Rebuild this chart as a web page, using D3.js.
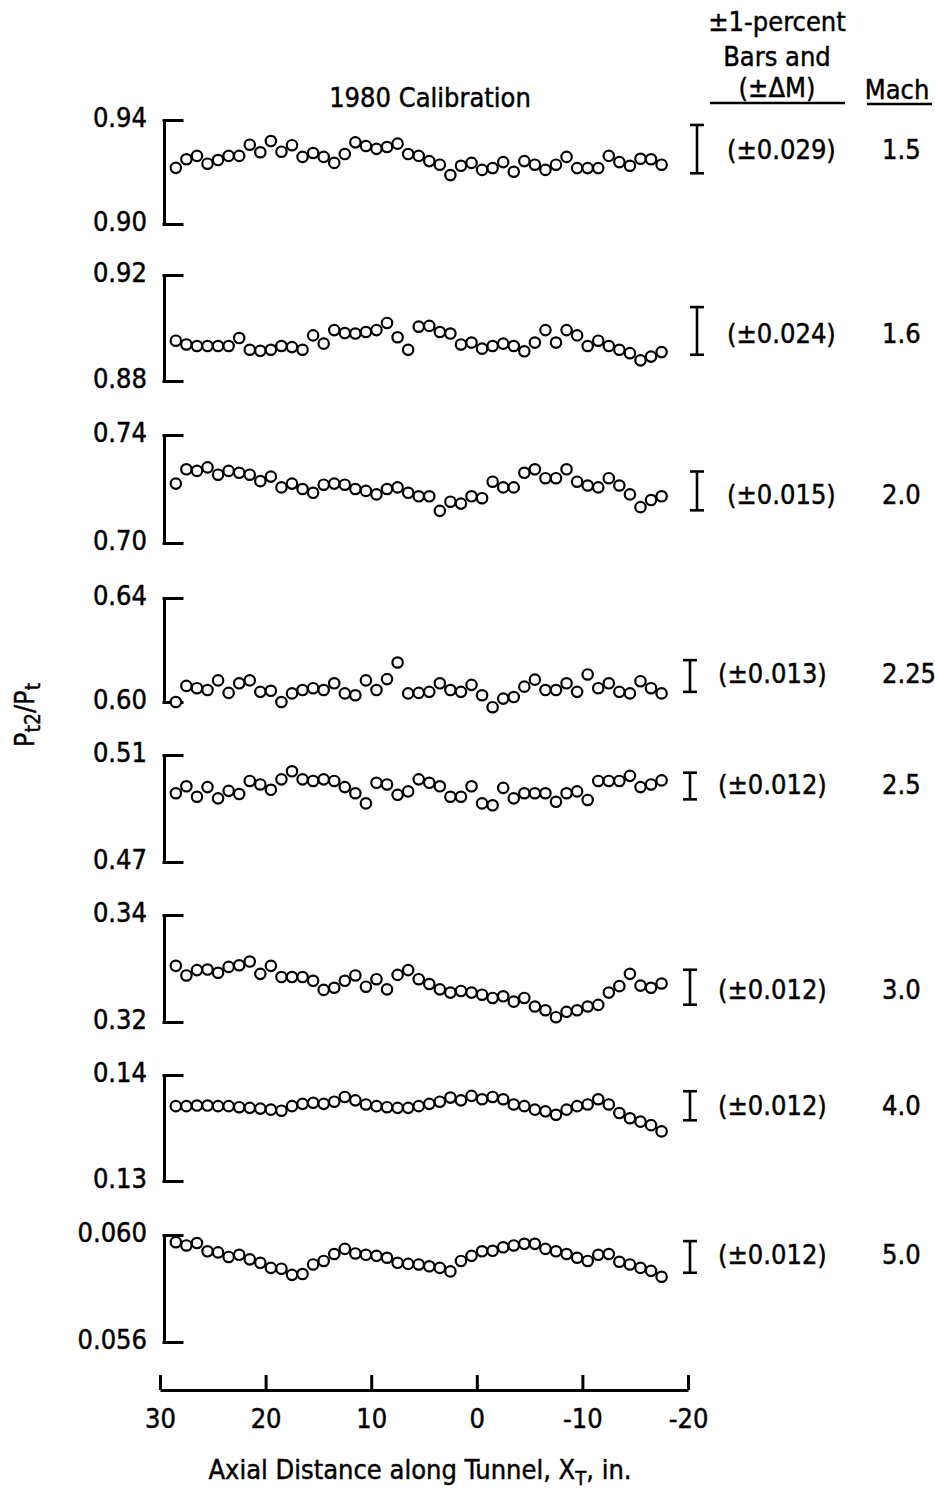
<!DOCTYPE html>
<html>
<head>
<meta charset="utf-8">
<script src="https://cdn.jsdelivr.net/npm/d3@7"></script>
<style>
body { margin: 0; background: #fff; }
text { font-family: "Liberation Sans Narrow", "DejaVu Sans Condensed", "Roboto Condensed", "DejaVu Sans", sans-serif; font-stretch: condensed; fill: #000; stroke: #000; stroke-width: 0.45px; }
</style>
</head>
<body>
<svg id="chart"></svg>
<script>
// Axial stations (in.) shared by every Mach number
var axialX = [28.5, 27.5, 26.5, 25.5, 24.5, 23.5, 22.5, 21.5, 20.5, 19.5, 18.5, 17.5, 16.5, 15.5, 14.5, 13.5,
    12.5, 11.5, 10.5, 9.5, 8.5, 7.5, 6.5, 5.5, 4.5, 3.5, 2.5, 1.5, 0.5, -0.5, -1.5, -2.5, -3.5, -4.5, -5.5,
    -6.5, -7.5, -8.5, -9.5, -10.5, -11.5, -12.5, -13.5, -14.5, -15.5, -16.5, -17.5];

var machLabels = ["1.5", "1.6", "2.0", "2.25", "2.5", "3.0", "4.0", "5.0"];
var deltaM = ["(\u00b10.029)", "(\u00b10.024)", "(\u00b10.015)", "(\u00b10.013)", "(\u00b10.012)", "(\u00b10.012)", "(\u00b10.012)", "(\u00b10.012)"];
var yHigh = [0.94, 0.92, 0.74, 0.64, 0.51, 0.34, 0.14, 0.060];
var yLow = [0.90, 0.88, 0.70, 0.60, 0.47, 0.32, 0.13, 0.056];
var yHighLabels = ["0.94", "0.92", "0.74", "0.64", "0.51", "0.34", "0.14", "0.060"];
var yLowLabels = ["0.90", "0.88", "0.70", "0.60", "0.47", "0.32", "0.13", "0.056"];
// centre value of each +-1 percent bar
var barCenter = [0.9288, 0.8989, 0.7193, 0.6100, 0.4984, 0.3265, 0.1371, 0.05918];
var xTicks = [30, 20, 10, 0, -10, -20];

// pt2/pt along the tunnel
var m15 = [0.9216, 0.9249, 0.9262, 0.9232, 0.9246, 0.9262, 0.9262, 0.9305, 0.9276, 0.9319,
    0.9278, 0.9303, 0.9258, 0.9273, 0.9258, 0.9235, 0.9269, 0.9314, 0.9300, 0.9289,
    0.9296, 0.9309, 0.9269, 0.9262, 0.9242, 0.9228, 0.9188, 0.9224, 0.9235, 0.9208,
    0.9215, 0.9238, 0.9201, 0.9242, 0.9228, 0.9208, 0.9228, 0.9258, 0.9215, 0.9215,
    0.9215, 0.9262, 0.9238, 0.9224, 0.9251, 0.9249, 0.9228];
var m16 = [0.8952, 0.8938, 0.8932, 0.8932, 0.8932, 0.8932, 0.8962, 0.8918, 0.8914, 0.8918,
    0.8932, 0.8928, 0.8918, 0.8972, 0.8941, 0.8992, 0.8981, 0.8979, 0.8985, 0.8992,
    0.9019, 0.8965, 0.8918, 0.9005, 0.9008, 0.8985, 0.8979, 0.8938, 0.8945, 0.8922,
    0.8932, 0.8941, 0.8932, 0.8912, 0.8945, 0.8992, 0.8945, 0.8992, 0.8972, 0.8932,
    0.8952, 0.8932, 0.8918, 0.8905, 0.8878, 0.8892, 0.8909];
var m20 = [0.7220, 0.7273, 0.7267, 0.7280, 0.7253, 0.7267, 0.7260, 0.7253, 0.7229, 0.7246,
    0.7206, 0.7220, 0.7200, 0.7186, 0.7216, 0.7220, 0.7216, 0.7200, 0.7193, 0.7180,
    0.7200, 0.7206, 0.7186, 0.7173, 0.7173, 0.7119, 0.7153, 0.7146, 0.7173, 0.7166,
    0.7227, 0.7206, 0.7206, 0.7260, 0.7273, 0.7240, 0.7240, 0.7273, 0.7227, 0.7213,
    0.7206, 0.7240, 0.7213, 0.7180, 0.7133, 0.7159, 0.7173];
var m225 = [0.6000, 0.6062, 0.6053, 0.6046, 0.6083, 0.6035, 0.6072, 0.6083, 0.6039, 0.6043,
    0.6000, 0.6033, 0.6046, 0.6053, 0.6046, 0.6072, 0.6033, 0.6026, 0.6083, 0.6046,
    0.6088, 0.6152, 0.6033, 0.6035, 0.6039, 0.6072, 0.6046, 0.6039, 0.6066, 0.6026,
    0.5980, 0.6013, 0.6019, 0.6059, 0.6086, 0.6046, 0.6046, 0.6072, 0.6039, 0.6106,
    0.6053, 0.6072, 0.6039, 0.6033, 0.6080, 0.6053, 0.6033];
var m25 = [0.4957, 0.4983, 0.4944, 0.4980, 0.4938, 0.4966, 0.4954, 0.5003, 0.4990, 0.4970,
    0.5009, 0.5039, 0.5009, 0.5003, 0.5009, 0.5003, 0.4980, 0.4957, 0.4919, 0.4996,
    0.4990, 0.4951, 0.4964, 0.5009, 0.4996, 0.4983, 0.4944, 0.4944, 0.4983, 0.4919,
    0.4912, 0.4977, 0.4938, 0.4957, 0.4957, 0.4957, 0.4925, 0.4957, 0.4964, 0.4932,
    0.5003, 0.5003, 0.5003, 0.5022, 0.4980, 0.4990, 0.5005];
var m30 = [0.3305, 0.3287, 0.3297, 0.3298, 0.3292, 0.3303, 0.3306, 0.3313, 0.3290, 0.3305,
    0.3284, 0.3284, 0.3284, 0.3277, 0.3260, 0.3264, 0.3277, 0.3287, 0.3266, 0.3280,
    0.3261, 0.3288, 0.3297, 0.3280, 0.3271, 0.3261, 0.3255, 0.3258, 0.3255, 0.3251,
    0.3245, 0.3248, 0.3238, 0.3245, 0.3229, 0.3222, 0.3209, 0.3219, 0.3222, 0.3229,
    0.3232, 0.3255, 0.3267, 0.3290, 0.3268, 0.3264, 0.3272];
var m40 = [0.13706, 0.13706, 0.13712, 0.13712, 0.13706, 0.13706, 0.13696, 0.13690, 0.13683, 0.13673,
    0.13663, 0.13706, 0.13728, 0.13738, 0.13728, 0.13748, 0.13793, 0.13761, 0.13722, 0.13706,
    0.13696, 0.13690, 0.13690, 0.13706, 0.13728, 0.13748, 0.13787, 0.13761, 0.13803, 0.13771,
    0.13793, 0.13771, 0.13722, 0.13706, 0.13673, 0.13657, 0.13625, 0.13673, 0.13706, 0.13722,
    0.13771, 0.13722, 0.13641, 0.13592, 0.13560, 0.13527, 0.13468];
var m50 = [0.05973, 0.05961, 0.05970, 0.05939, 0.05935, 0.05918, 0.05926, 0.05909, 0.05896, 0.05877,
    0.05874, 0.05851, 0.05854, 0.05890, 0.05903, 0.05929, 0.05948, 0.05931, 0.05926, 0.05922,
    0.05915, 0.05896, 0.05892, 0.05890, 0.05883, 0.05877, 0.05864, 0.05903, 0.05922, 0.05939,
    0.05941, 0.05954, 0.05961, 0.05967, 0.05967, 0.05948, 0.05939, 0.05929, 0.05915, 0.05903,
    0.05926, 0.05929, 0.05900, 0.05890, 0.05877, 0.05866, 0.05844];
var series = [m15, m16, m20, m225, m25, m30, m40, m50];

// layout
var panelTop = [120, 275, 435, 598, 755, 915, 1075, 1235],
    panelBottom = [224, 381, 543, 702, 862, 1022, 1181, 1342],
    barX = [697, 697, 697, 690, 690, 690, 690, 690],
    barTextX = [727, 727, 727, 718, 718, 718, 718, 718],
    textY = [150, 334, 495, 674, 785, 990, 1106, 1255],
    fs = "27px";

var svg = d3.select("#chart").attr("width", 935).attr("height", 1490);
svg.append("rect").attr("width", 935).attr("height", 1490).attr("fill", "#fff");

var x = d3.scaleLinear().domain([30, -20]).range([160, 688]);

machLabels.forEach(function(mach, i) {
    var y = d3.scaleLinear().domain([yLow[i], yHigh[i]]).range([panelBottom[i], panelTop[i]]);
    var g = svg.append("g").attr("class", "panel");

    //Bracket shaped y axis
    g.append("g")
        .attr("transform", "translate(164,0)")
        .call(d3.axisRight(y).tickValues([yLow[i], yHigh[i]]).tickSize(18).tickSizeOuter(0).tickFormat(""))
        .call(function(s) {
            s.selectAll("path, line").attr("stroke", "#000").attr("stroke-width", 3).attr("stroke-linecap", "square");
        });

    g.selectAll(".ylab")
        .data([[yHigh[i], yHighLabels[i]], [yLow[i], yLowLabels[i]]])
        .enter().append("text")
        .attr("class", "ylab")
        .attr("x", 147)
        .attr("y", function(d) { return y(d[0]) - 2; })
        .attr("dy", "0.35em")
        .attr("text-anchor", "end")
        .style("font-size", fs)
        .text(function(d) { return d[1]; });

    //Data points
    g.selectAll("circle")
        .data(series[i])
        .enter().append("circle")
        .attr("cx", function(d, j) { return x(axialX[j]); })
        .attr("cy", function(d) { return y(d); })
        .attr("r", 5.2)
        .attr("fill", "#fff")
        .attr("stroke", "#000")
        .attr("stroke-width", 2.2);

    //+-1 percent bar
    var lo = y(barCenter[i] * 0.99), hi = y(barCenter[i] * 1.01), bx = barX[i];
    var bar = g.append("g").attr("stroke", "#000").attr("stroke-width", 2.6);
    bar.append("line").attr("x1", bx).attr("x2", bx).attr("y1", hi).attr("y2", lo);
    bar.append("line").attr("x1", bx - 7).attr("x2", bx + 7).attr("y1", hi).attr("y2", hi);
    bar.append("line").attr("x1", bx - 7).attr("x2", bx + 7).attr("y1", lo).attr("y2", lo);

    g.append("text").attr("x", barTextX[i]).attr("y", textY[i]).attr("dy", "0.35em")
        .style("font-size", fs).text(deltaM[i]);
    g.append("text").attr("x", 882).attr("y", textY[i]).attr("dy", "0.35em")
        .style("font-size", fs).text(mach);
});

//X axis
var xAxis = svg.append("g")
    .attr("transform", "translate(0,1390)")
    .call(d3.axisBottom(x).tickValues(xTicks).tickSize(-15).tickSizeOuter(0).tickPadding(19)
        .tickFormat(function(d) { return String(d); }));
xAxis.selectAll("path, line").attr("stroke", "#000").attr("stroke-width", 3);
xAxis.selectAll("text").style("font-size", fs).attr("fill", "#000");

//Titles
svg.append("text").attr("x", 430).attr("y", 98).attr("dy", "0.35em").attr("text-anchor", "middle")
    .style("font-size", fs).text("1980 Calibration");

var header = [["\u00b11-percent", 22], ["Bars and", 57], ["(\u00b1\u0394M)", 88]];
svg.selectAll(".hdr").data(header).enter().append("text")
    .attr("class", "hdr")
    .attr("x", 777).attr("y", function(d) { return d[1]; }).attr("dy", "0.35em")
    .attr("text-anchor", "middle").style("font-size", fs)
    .text(function(d) { return d[0]; });
svg.append("line").attr("x1", 710).attr("x2", 845).attr("y1", 103).attr("y2", 103).attr("stroke", "#000").attr("stroke-width", 2.5);
svg.append("text").attr("x", 897).attr("y", 90).attr("dy", "0.35em").attr("text-anchor", "middle")
    .style("font-size", fs).text("Mach");
svg.append("line").attr("x1", 867).attr("x2", 932).attr("y1", 104).attr("y2", 104).attr("stroke", "#000").attr("stroke-width", 2.5);

//Y axis title
var yt = svg.append("text").attr("transform", "translate(34,715) rotate(-90)").attr("text-anchor", "middle").style("font-size", fs);
yt.append("tspan").text("P");
yt.append("tspan").attr("dy", 6).style("font-size", "21px").text("t2");
yt.append("tspan").attr("dy", -6).text("/P");
yt.append("tspan").attr("dy", 6).style("font-size", "21px").text("t");

//X axis title
var xt = svg.append("text").attr("x", 420).attr("y", 1479).attr("text-anchor", "middle").style("font-size", fs);
xt.append("tspan").text("Axial Distance along Tunnel, X");
xt.append("tspan").attr("dy", 6).style("font-size", "20px").text("T");
xt.append("tspan").attr("dy", -6).text(", in.");
</script>
</body>
</html>
